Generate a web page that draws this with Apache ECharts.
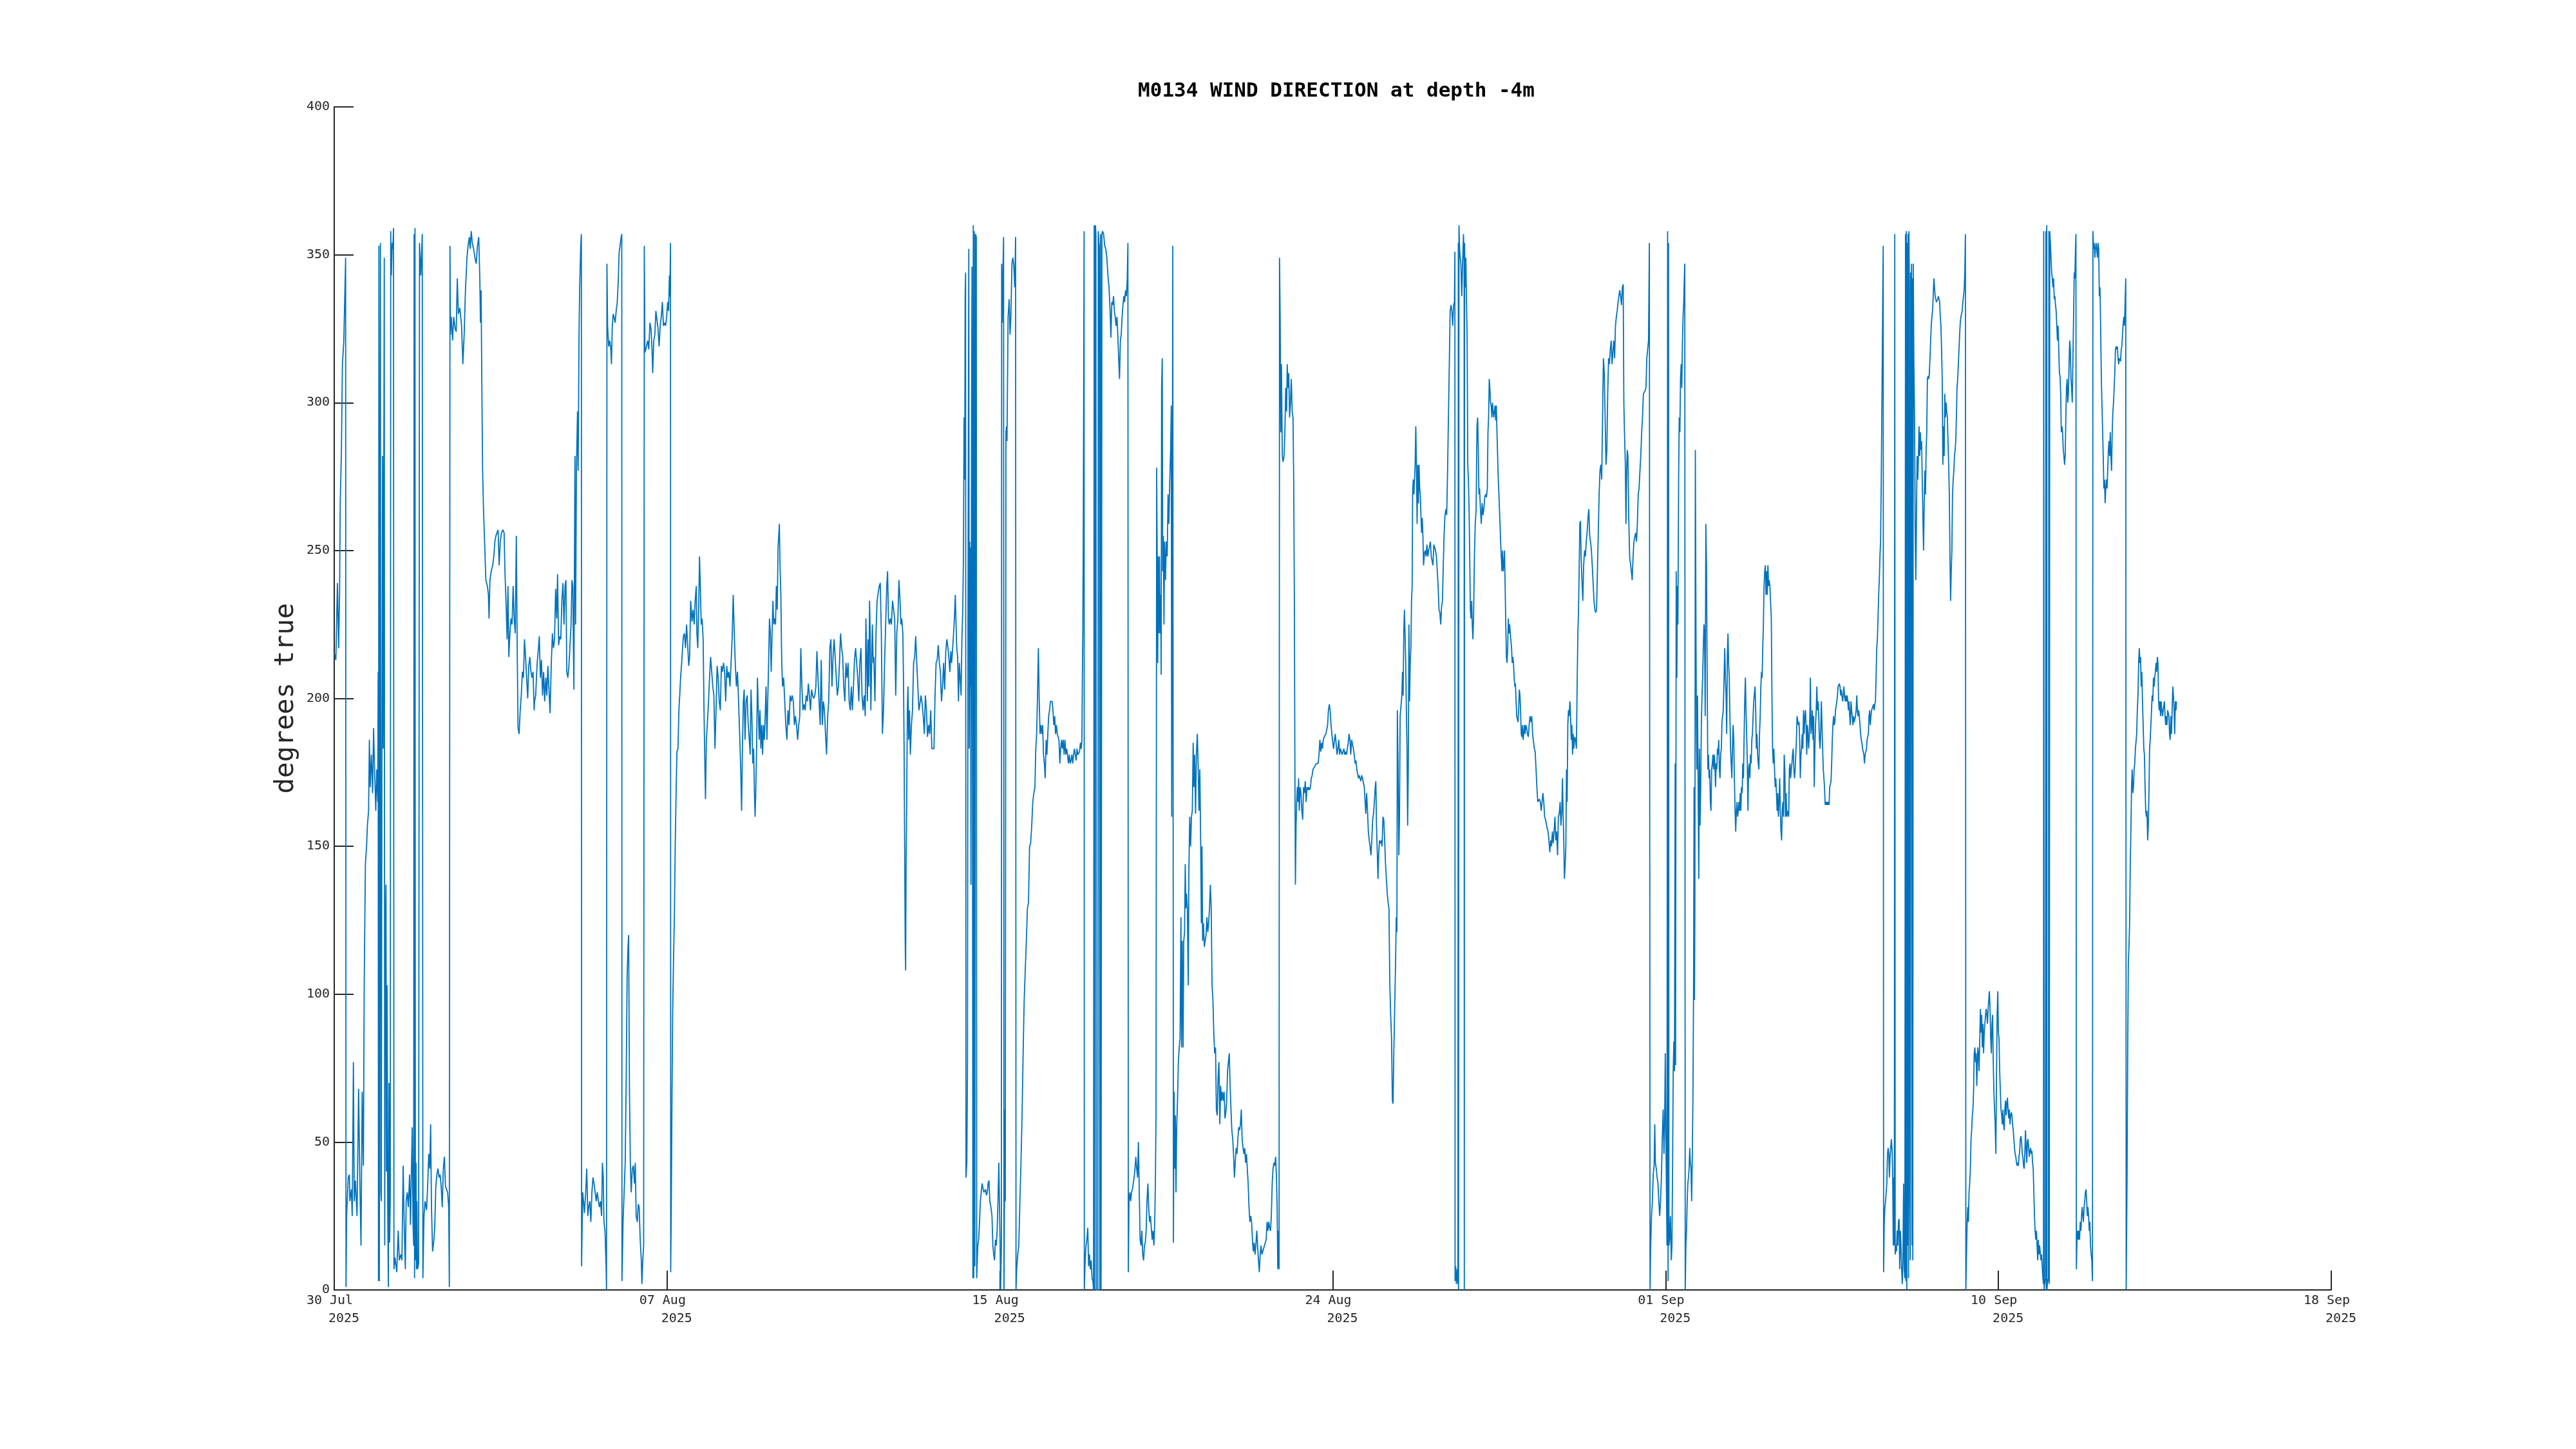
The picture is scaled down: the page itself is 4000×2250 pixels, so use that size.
<!DOCTYPE html>
<html>
<head>
<meta charset="utf-8">
<title>M0134 wind direction</title>
<script src="https://cdn.jsdelivr.net/npm/echarts@6/dist/echarts.min.js"></script>
<style>
  html, body { margin: 0; padding: 0; background: #fff; }
  #chart { width: 4000px; height: 2250px; }
</style>
</head>
<body>
<div id="chart"></div>
<script>
// x = days since 30 Jul 2025 00:00, y = wind direction (degrees true)
const tickDates = ['30 Jul', '07 Aug', '15 Aug', '24 Aug', '01 Sep', '10 Sep', '18 Sep']
const tickYears = ['2025', '2025', '2025', '2025', '2025', '2025', '2025']
const yTicks = [0, 50, 100, 150, 200, 250, 300, 350, 400]

// 30 Jul - 04 Aug
const seg1Day = [0.01,0.04,0.08,0.11,0.135,0.15,0.18,0.205,0.24,0.285,
  0.295,0.31,0.35,0.38,0.39,0.43,0.45,0.48,0.5,0.53,
  0.57,0.61,0.64,0.67,0.7,0.73,0.75,0.78,0.81,0.83,
  0.86,0.88,0.9,0.93,0.96,0.985,1.01,1.04,1.065,1.09,
  1.1,1.108,1.118,1.129,1.145,1.156,1.167,1.178,1.194,1.21,
  1.226,1.242,1.253,1.264,1.28,1.296,1.307,1.323,1.339,1.355,
  1.371,1.387,1.403,1.414,1.43,1.452,1.468,1.484,1.495,1.522,
  1.565,1.602,1.629,1.667,1.694,1.726,1.747,1.78,1.801,1.828,
  1.855,1.887,1.909,1.93,1.952,1.973,1.989,2.0,2.011,2.022,
  2.032,2.048,2.059,2.07,2.086,2.113,2.135,2.167,2.204,2.22,
  2.247,2.274,2.312,2.339,2.366,2.392,2.414,2.435,2.462,2.489,
  2.516,2.543,2.57,2.597,2.624,2.651,2.677,2.704,2.731,2.758,
  2.785,2.812,2.839,2.866,2.882,2.898,2.909,2.93,2.963,2.99,
  3.027,3.054,3.081,3.108,3.145,3.188,3.22,3.253,3.285,3.323,
  3.35,3.382,3.403,3.43,3.457,3.489,3.522,3.554,3.586,3.618,
  3.645,3.661,3.677,3.699,3.715,3.737,3.764,3.796,3.834,3.86,
  3.876,3.898,3.93,3.968,3.995,4.022,4.048,4.075,4.102,4.129,
  4.156,4.188,4.22,4.253,4.274,4.307,4.328,4.35,4.371,4.398,
  4.425,4.452,4.479,4.505,4.532,4.559,4.581,4.602,4.629,4.656,
  4.683,4.71,4.737,4.763,4.79,4.817,4.844,4.871,4.898,4.925,
  4.952,4.978,5.005]
const seg1Deg = [215,213,239,217,237,266,284,313,321,349,
  1,25,38,39,30,34,25,77,30,37,
  25,68,38,15,67,42,103,144,150,157,
  162,186,170,181,168,190,176,162,176,165,
  209,3,353,3,261,354,33,30,183,282,
  183,282,349,15,124,137,40,103,28,1,
  70,16,30,358,343,354,352,359,7,11,
  6,20,10,12,10,42,25,7,30,33,
  28,39,22,38,55,22,15,357,4,359,
  10,43,7,30,7,9,354,343,357,4,
  25,30,27,35,46,41,56,28,13,16,
  21,35,39,41,38,39,35,28,41,45,
  35,34,33,28,1,353,323,329,321,329,
  325,324,342,330,332,326,313,323,338,349,
  353,356,352,358,354,352,349,347,353,356,
  342,327,338,300,277,264,253,240,238,235,
  227,240,243,245,248,253,255,256,257,245,
  253,256,257,256,243,230,220,238,214,222,
  227,225,238,227,222,255,217,190,188,196,
  201,209,207,220,214,207,200,211,214,209,
  207,209,196]

// 04 Aug - 09 Aug
const seg2Day = [5.016,5.043,5.081,5.113,5.134,5.161,5.188,5.215,5.242,5.269,
  5.296,5.322,5.349,5.376,5.403,5.435,5.462,5.489,5.516,5.543,
  5.57,5.591,5.618,5.645,5.672,5.699,5.726,5.753,5.779,5.801,
  5.822,5.849,5.876,5.903,5.93,5.951,5.973,6.0,6.027,6.043,
  6.064,6.091,6.107,6.129,6.145,6.172,6.188,6.193,6.22,6.242,
  6.263,6.296,6.322,6.349,6.371,6.398,6.425,6.451,6.478,6.505,
  6.532,6.559,6.586,6.613,6.64,6.666,6.693,6.715,6.736,6.752,
  6.779,6.806,6.817,6.828,6.844,6.871,6.898,6.925,6.941,6.962,
  6.984,7.005,7.032,7.059,7.086,7.113,7.134,7.156,7.183,7.199,
  7.204,7.231,7.258,7.285,7.312,7.333,7.355,7.371,7.392,7.414,
  7.435,7.462,7.489,7.516,7.537,7.559,7.586,7.613,7.634,7.661,
  7.688,7.704,7.725,7.747,7.763,7.779,7.801,7.822,7.849,7.876,
  7.903,7.93,7.957,7.973,8.0,8.027,8.053,8.08,8.107,8.134,
  8.161,8.188,8.215,8.242,8.269,8.295,8.322,8.349,8.371,8.392,
  8.403,8.419,8.424,8.44,8.457,8.473,8.494,8.516,8.537,8.559,
  8.58,8.607,8.629,8.65,8.672,8.699,8.72,8.742,8.768,8.795,
  8.822,8.849,8.876,8.898,8.925,8.957,8.984,9.011,9.037,9.064,
  9.08,9.102,9.129,9.145,9.166,9.188,9.209,9.236,9.258,9.279,
  9.295,9.317,9.344,9.371,9.397,9.424,9.451,9.478,9.505,9.532,
  9.559,9.586,9.613,9.639,9.666,9.693,9.72,9.747,9.774,9.801,
  9.828,9.854,9.881,9.908,9.935,9.962,9.989,10.016,10.043,10.07,
  10.096,10.123,10.15]
const seg2Deg = [199,201,212,217,221,207,213,201,209,199,
  207,201,211,203,195,212,222,217,220,237,
  227,242,218,221,220,233,239,225,238,240,
  209,207,211,218,225,240,238,203,282,225,
  277,297,277,323,339,353,357,8,33,30,
  26,33,41,25,28,30,23,33,38,36,
  36,30,33,30,28,30,25,43,38,23,
  20,8,0,347,326,319,321,318,313,326,
  330,329,327,331,334,342,351,353,356,357,
  3,23,33,43,74,106,116,120,67,43,
  33,41,42,36,43,25,23,29,28,17,
  10,2,10,15,353,317,318,318,321,318,
  327,325,318,310,321,323,331,331,325,319,
  326,329,334,326,327,326,329,334,331,343,
  336,354,6,30,67,93,111,126,150,168,
  182,183,196,201,207,212,217,221,222,217,
  225,218,211,214,233,226,230,225,233,238,
  222,217,233,248,238,225,227,220,196,178,
  166,186,192,199,207,214,209,204,201,183,
  196,211,207,199,196,211,209,212,209,199,
  211,207,209,204,212,220,235,222,211,204,
  209,199,188]

// 09 Aug - 14 Aug
const seg3Day = [10.177,10.199,10.22,10.242,10.263,10.285,10.311,10.338,10.365,10.392,
  10.414,10.435,10.457,10.478,10.5,10.521,10.537,10.553,10.575,10.596,
  10.618,10.639,10.661,10.682,10.704,10.725,10.747,10.768,10.79,10.811,
  10.833,10.854,10.876,10.897,10.919,10.94,10.962,10.983,11.005,11.026,
  11.048,11.069,11.091,11.112,11.129,11.145,11.161,11.182,11.204,11.225,
  11.252,11.279,11.306,11.333,11.36,11.387,11.414,11.44,11.467,11.494,
  11.521,11.548,11.575,11.602,11.629,11.655,11.682,11.709,11.736,11.763,
  11.79,11.817,11.844,11.87,11.897,11.924,11.951,11.978,12.005,12.032,
  12.059,12.085,12.112,12.139,12.166,12.193,12.22,12.247,12.274,12.3,
  12.327,12.354,12.381,12.408,12.435,12.462,12.489,12.515,12.542,12.569,
  12.596,12.623,12.65,12.677,12.704,12.731,12.757,12.784,12.811,12.838,
  12.865,12.892,12.919,12.946,12.972,12.999,13.026,13.053,13.08,13.107,
  13.134,13.161,13.188,13.214,13.241,13.268,13.295,13.311,13.327,13.349,
  13.365,13.386,13.403,13.419,13.435,13.456,13.473,13.494,13.51,13.537,
  13.564,13.591,13.618,13.645,13.671,13.698,13.725,13.752,13.779,13.806,
  13.833,13.854,13.876,13.897,13.924,13.951,13.978,14.005,14.032,14.058,
  14.085,14.112,14.139,14.166,14.188,14.209,14.236,14.252,14.268,14.284,
  14.295,14.306,14.317,14.333,14.349,14.365,14.381,14.403,14.424,14.451,
  14.478,14.505,14.532,14.558,14.585,14.612,14.639,14.666,14.693,14.72,
  14.747,14.774,14.8,14.827,14.854,14.881,14.908,14.935,14.962,14.989,
  15.015,15.042,15.069,15.096,15.123,15.15,15.177,15.204,15.23,15.257,
  15.284,15.311]
const seg3Deg = [176,162,183,199,203,186,199,201,191,186,
  181,203,194,178,183,168,160,168,183,207,
  196,186,196,183,191,181,191,186,194,204,
  186,199,212,227,222,209,222,233,225,227,
  225,238,230,251,255,259,245,235,212,204,
  207,199,191,186,196,191,201,199,201,199,
  191,194,191,186,191,194,217,204,196,198,
  196,201,199,205,201,196,203,201,200,201,
  204,216,207,199,191,213,191,199,196,188,
  181,194,199,217,220,204,214,220,214,207,
  201,204,212,222,217,214,204,199,212,207,
  212,199,196,204,196,204,213,217,212,207,
  199,212,217,201,196,201,194,227,217,199,
  220,204,233,222,196,212,225,212,214,199,
  222,233,233,238,239,222,188,196,212,225,
  238,243,227,225,227,225,233,230,227,201,
  222,227,240,233,225,227,222,207,183,144,
  118,108,144,165,196,204,186,196,181,191,
  196,212,214,221,212,212,196,196,201,198,
  194,188,201,196,187,191,188,196,183,183,
  183,201,212,213,218,212,209,199,204,212,
  203,216]

// 14 Aug - 19 Aug
const seg4Day = [15.339,15.366,15.393,15.414,15.436,15.457,15.484,15.506,15.527,15.549,
  15.565,15.586,15.608,15.629,15.651,15.672,15.694,15.715,15.737,15.753,
  15.769,15.785,15.796,15.807,15.817,15.839,15.855,15.866,15.887,15.898,
  15.909,15.92,15.93,15.941,15.957,15.968,15.979,15.99,16.0,16.011,
  16.022,16.038,16.054,16.075,16.086,16.092,16.113,16.135,16.156,16.178,
  16.199,16.221,16.242,16.264,16.285,16.307,16.328,16.35,16.371,16.393,
  16.414,16.441,16.468,16.49,16.511,16.532,16.554,16.575,16.597,16.618,
  16.64,16.656,16.672,16.683,16.704,16.71,16.726,16.742,16.758,16.769,
  16.78,16.79,16.801,16.817,16.833,16.844,16.871,16.898,16.92,16.941,
  16.968,16.99,17.016,17.038,17.059,17.07,17.086,17.113,17.14,17.167,
  17.194,17.221,17.248,17.274,17.301,17.328,17.355,17.382,17.409,17.436,
  17.463,17.489,17.516,17.543,17.565,17.586,17.608,17.629,17.651,17.672,
  17.694,17.715,17.737,17.758,17.78,17.801,17.823,17.844,17.866,17.887,
  17.909,17.93,17.952,17.973,17.995,18.016,18.038,18.059,18.081,18.102,
  18.124,18.145,18.167,18.188,18.21,18.231,18.253,18.274,18.296,18.317,
  18.339,18.36,18.382,18.403,18.425,18.446,18.468,18.489,18.511,18.532,
  18.554,18.575,18.597,18.618,18.64,18.661,18.683,18.704,18.72,18.731,
  18.742,18.753,18.763,18.774,18.78,18.801,18.823,18.844,18.866,18.887,
  18.909,18.93,18.952,18.973,18.995,19.011,19.027,19.038,19.048,19.059,
  19.07,19.081,19.102,19.118,19.129,19.145,19.156,19.167,19.177,19.188,
  19.199,19.21,19.221,19.237,19.263,19.29,19.317,19.344,19.371,19.398,
  19.425,19.446,19.468,19.489,19.511,19.532,19.554,19.575,19.597,19.618,
  19.64,19.661,19.683,19.704,19.726,19.747,19.769,19.79,19.812,19.833,
  19.855,19.871,19.882,19.898,19.919,19.941,19.962,19.984,20.005,20.027,
  20.048,20.07,20.091,20.113,20.134,20.156,20.177,20.199,20.22,20.242,
  20.263,20.285,20.306,20.328,20.349,20.371,20.392,20.414,20.435,20.457,
  20.478]
const seg4Deg = [220,217,213,209,216,212,217,222,227,235,
  227,217,214,199,212,207,201,220,230,248,
  295,274,336,344,38,43,77,220,352,183,
  253,204,251,137,300,346,188,4,360,4,
  358,8,357,356,4,7,15,17,23,30,
  33,36,36,33,33,34,32,33,36,37,
  30,28,25,15,12,10,17,15,20,30,
  43,28,15,0,15,347,327,344,356,0,
  30,61,30,290,292,287,329,335,323,329,
  347,349,346,339,356,0,7,12,15,30,
  43,59,80,98,108,118,129,131,150,151,
  157,165,168,170,183,188,201,217,199,188,
  191,188,191,181,178,173,186,181,188,194,
  196,199,199,199,196,191,194,188,191,188,
  188,186,178,183,186,183,186,181,186,181,
  183,181,178,181,178,179,181,178,181,183,
  181,179,183,181,181,182,185,183,186,207,
  222,253,300,358,0,10,15,17,21,8,
  12,7,10,4,3,0,360,0,358,360,
  357,0,0,0,358,354,353,0,0,357,
  0,0,357,358,357,353,352,349,343,339,
  331,322,334,333,336,331,329,326,329,323,
  315,308,321,323,329,333,336,334,338,336,
  342,354,6,30,33,30,33,34,36,38,
  41,45,41,38,50,33,17,15,20,12,
  10,15,16,20,30,36,28,23,25,21,
  17]

// 19 Aug - 25 Aug
const seg5Day = [20.5,20.522,20.543,20.559,20.575,20.591,20.608,20.618,20.629,20.645,
  20.661,20.677,20.694,20.704,20.715,20.731,20.742,20.758,20.774,20.79,
  20.812,20.833,20.855,20.876,20.898,20.919,20.941,20.957,20.968,20.984,
  20.995,21.005,21.011,21.027,21.043,21.059,21.075,21.091,21.113,21.134,
  21.156,21.177,21.199,21.215,21.231,21.253,21.269,21.29,21.306,21.323,
  21.339,21.36,21.382,21.398,21.419,21.441,21.462,21.484,21.505,21.522,
  21.543,21.565,21.586,21.608,21.629,21.651,21.672,21.694,21.71,21.726,
  21.742,21.763,21.785,21.806,21.828,21.849,21.871,21.892,21.914,21.935,
  21.957,21.978,22.0,22.021,22.043,22.065,22.086,22.108,22.129,22.151,
  22.172,22.194,22.215,22.237,22.258,22.28,22.301,22.323,22.344,22.366,
  22.387,22.409,22.43,22.452,22.473,22.495,22.516,22.538,22.559,22.581,
  22.602,22.624,22.645,22.667,22.688,22.71,22.731,22.753,22.774,22.796,
  22.817,22.839,22.86,22.882,22.903,22.925,22.946,22.968,22.989,23.011,
  23.032,23.054,23.075,23.097,23.118,23.14,23.161,23.183,23.204,23.226,
  23.247,23.269,23.29,23.312,23.333,23.355,23.376,23.398,23.419,23.441,
  23.462,23.484,23.505,23.527,23.548,23.57,23.591,23.607,23.624,23.64,
  23.656,23.667,23.683,23.699,23.715,23.737,23.758,23.78,23.801,23.823,
  23.844,23.86,23.876,23.898,23.919,23.941,23.962,23.984,24.005,24.022,
  24.038,24.054,24.065,24.081,24.097,24.113,24.129,24.145,24.161,24.183,
  24.204,24.226,24.247,24.269,24.29,24.312,24.333,24.355,24.376,24.398,
  24.419,24.441,24.462,24.484,24.505,24.527,24.548,24.57,24.591,24.613,
  24.634,24.656,24.677,24.699,24.72,24.742,24.763,24.785,24.806,24.828,
  24.849,24.871,24.892,24.914,24.935,24.957,24.978,25.0,25.021,25.043,
  25.064,25.086,25.107,25.129,25.15,25.172,25.193,25.215,25.236,25.258,
  25.279,25.301,25.322,25.344,25.365,25.387,25.408,25.43,25.451,25.473,
  25.494,25.516,25.537,25.559,25.58,25.602,25.623,25.645]
const seg5Deg = [20,15,23,36,59,278,240,212,248,222,
  248,222,235,208,305,315,243,255,225,253,
  240,253,248,269,259,274,284,299,160,259,
  353,137,16,67,41,59,33,54,64,77,
  82,85,126,82,118,82,118,121,144,129,
  134,129,103,142,160,150,160,162,185,170,
  181,161,181,188,178,162,176,150,124,150,
  118,124,116,118,120,126,121,124,129,137,
  129,103,98,87,80,82,61,59,72,77,
  56,69,64,67,64,67,58,60,64,74,
  77,80,69,61,54,51,46,38,43,48,
  46,51,55,54,56,61,51,48,46,48,
  43,46,41,36,28,23,25,23,17,13,
  16,12,15,20,15,10,6,12,15,12,
  13,13,15,15,17,23,20,23,21,20,
  25,36,41,43,42,45,38,28,7,20,
  7,349,329,290,313,282,280,282,290,305,
  297,313,305,310,295,300,308,297,295,274,
  235,170,137,157,165,170,165,173,162,170,
  168,162,159,170,168,172,165,170,169,170,
  169,170,173,174,176,176,177,177,178,178,
  178,181,186,182,185,183,186,187,187,188,
  188,191,196,198,196,191,188,185,183,186,
  188,188,181,183,186,181,183,182,181,182,
  183,181,182,181,183,185,188,186,181,186,
  186,183,181,178,179,176,176,173]

// 25 Aug - 30 Aug
const seg6Day = [25.66,25.682,25.703,25.725,25.746,25.768,25.789,25.811,25.827,25.848,
  25.87,25.891,25.913,25.934,25.956,25.977,25.999,26.02,26.042,26.063,
  26.079,26.095,26.117,26.133,26.149,26.171,26.192,26.214,26.235,26.257,
  26.278,26.3,26.321,26.343,26.364,26.386,26.407,26.429,26.45,26.472,
  26.493,26.509,26.526,26.547,26.569,26.59,26.606,26.617,26.633,26.655,
  26.671,26.687,26.708,26.73,26.746,26.762,26.778,26.794,26.81,26.827,
  26.843,26.859,26.875,26.891,26.907,26.923,26.939,26.956,26.972,26.988,
  26.999,27.015,27.031,27.047,27.063,27.079,27.095,27.112,27.128,27.144,
  27.16,27.176,27.192,27.208,27.224,27.241,27.257,27.273,27.294,27.316,
  27.337,27.359,27.38,27.402,27.423,27.445,27.466,27.488,27.509,27.531,
  27.552,27.574,27.595,27.617,27.638,27.66,27.681,27.703,27.724,27.746,
  27.767,27.789,27.81,27.832,27.853,27.875,27.896,27.918,27.939,27.961,
  27.982,28.004,28.025,28.047,28.058,28.063,28.079,28.095,28.117,28.133,
  28.144,28.149,28.16,28.176,28.192,28.208,28.23,28.251,28.273,28.289,
  28.294,28.3,28.316,28.332,28.348,28.364,28.38,28.396,28.413,28.429,
  28.445,28.461,28.477,28.493,28.509,28.525,28.547,28.568,28.59,28.611,
  28.628,28.644,28.66,28.676,28.697,28.719,28.74,28.762,28.783,28.805,
  28.827,28.848,28.87,28.886,28.902,28.918,28.934,28.95,28.966,28.983,
  28.999,29.015,29.031,29.047,29.063,29.079,29.095,29.112,29.128,29.144,
  29.16,29.182,29.203,29.219,29.235,29.251,29.267,29.284,29.3,29.316,
  29.332,29.348,29.364,29.38,29.396,29.412,29.429,29.445,29.461,29.477,
  29.493,29.509,29.525,29.542,29.558,29.574,29.59,29.606,29.622,29.638,
  29.654,29.671,29.687,29.703,29.719,29.735,29.751,29.767,29.783,29.8,
  29.816,29.832,29.853,29.875,29.896,29.918,29.939,29.961,29.982,30.004,
  30.025,30.047,30.068,30.09,30.111,30.133,30.154,30.176,30.197,30.219,
  30.24,30.262,30.283,30.305,30.327,30.348,30.37,30.391,30.413,30.434,
  30.456,30.477,30.499,30.52,30.542,30.563,30.585,30.606,30.628,30.649,
  30.671,30.692,30.714,30.735,30.751,30.767,30.783,30.8]
const seg6Deg = [174,173,172,174,173,173,170,165,161,168,
  162,155,152,150,147,152,159,161,165,170,
  172,157,147,139,147,152,151,152,150,160,
  159,152,144,139,134,131,129,103,93,85,
  64,63,78,93,108,126,121,196,181,147,
  160,194,194,201,209,201,222,230,222,212,
  196,183,157,176,225,199,212,217,233,238,
  269,274,269,274,279,292,279,259,279,266,
  279,271,269,262,256,261,255,245,249,250,
  248,252,248,250,250,253,248,248,245,252,
  252,250,248,243,238,230,229,225,231,233,
  245,256,262,264,262,277,295,313,331,333,
  331,326,333,334,351,3,8,2,7,2,
  354,0,360,352,349,347,336,347,357,347,
  0,354,339,349,334,323,279,274,264,248,
  230,227,233,225,220,227,248,259,264,292,
  295,284,269,271,264,259,266,262,264,268,
  269,268,271,290,295,308,305,300,299,295,
  300,297,295,297,299,294,299,290,282,274,
  269,261,253,248,243,250,243,245,250,238,
  225,214,212,217,227,222,225,222,222,217,
  212,214,212,207,204,205,199,194,194,192,
  196,203,201,196,188,187,191,186,186,191,
  188,191,190,188,187,191,194,192,194,188,
  188,183,182,176,170,165,165,166,165,162,
  165,168,165,160,159,159,156,155,152,148,
  152,150,155,151,155,160,152,155,147,160,
  161,165,157,162,173,162,152,139]

// 30 Aug - 04 Sep
const seg7Day = [30.82,30.836,30.852,30.868,30.885,30.901,30.917,30.938,30.954,30.971,
  30.987,31.003,31.019,31.035,31.057,31.078,31.1,31.121,31.137,31.153,
  31.169,31.186,31.202,31.218,31.239,31.261,31.282,31.304,31.325,31.347,
  31.368,31.39,31.411,31.433,31.454,31.476,31.497,31.519,31.54,31.562,
  31.583,31.605,31.626,31.648,31.669,31.691,31.712,31.734,31.755,31.777,
  31.798,31.82,31.841,31.863,31.884,31.906,31.927,31.949,31.971,31.992,
  32.014,32.035,32.057,32.078,32.1,32.121,32.143,32.164,32.186,32.207,
  32.229,32.25,32.272,32.288,32.304,32.325,32.341,32.358,32.374,32.39,
  32.411,32.433,32.454,32.476,32.497,32.519,32.54,32.562,32.583,32.605,
  32.626,32.648,32.669,32.691,32.712,32.734,32.755,32.777,32.798,32.82,
  32.841,32.863,32.884,32.906,32.927,32.944,32.96,32.981,33.003,33.024,
  33.046,33.062,33.078,33.1,33.121,33.142,33.164,33.185,33.207,33.228,
  33.25,33.272,33.293,33.309,33.325,33.341,33.358,33.368,33.384,33.395,
  33.406,33.417,33.433,33.454,33.476,33.492,33.508,33.524,33.54,33.556,
  33.573,33.583,33.599,33.616,33.626,33.642,33.659,33.675,33.691,33.707,
  33.723,33.739,33.755,33.771,33.788,33.804,33.814,33.825,33.841,33.857,
  33.874,33.89,33.906,33.922,33.938,33.954,33.97,33.986,34.003,34.019,
  34.035,34.046,34.056,34.067,34.078,34.094,34.105,34.115,34.132,34.148,
  34.164,34.18,34.196,34.212,34.228,34.245,34.261,34.277,34.293,34.309,
  34.325,34.341,34.357,34.374,34.39,34.406,34.422,34.438,34.454,34.47,
  34.487,34.503,34.519,34.535,34.551,34.567,34.583,34.6,34.616,34.632,
  34.648,34.664,34.68,34.696,34.712,34.729,34.745,34.761,34.777,34.798,
  34.814,34.831,34.847,34.863,34.879,34.895,34.911,34.927,34.944,34.96,
  34.976,34.992,35.008,35.024,35.04,35.056,35.073,35.089,35.105,35.121,
  35.137,35.153,35.169,35.185,35.202,35.218,35.234,35.25,35.266,35.282,
  35.298,35.314,35.331,35.347,35.363,35.379,35.395,35.411,35.427,35.443,
  35.46,35.476,35.492,35.508,35.524,35.54,35.556,35.572,35.589,35.605,
  35.621,35.637,35.653,35.669,35.685,35.702,35.718,35.734,35.75,35.766,
  35.782,35.798,35.815,35.831,35.847,35.863,35.879,35.895,35.911,35.927,
  35.944,35.96]
const seg7Deg = [144,150,176,165,191,196,194,199,194,186,
  191,181,188,183,187,186,183,207,222,230,
  243,259,260,248,240,233,245,250,248,253,
  256,261,264,255,253,250,245,239,233,230,
  229,230,243,256,269,277,279,274,295,315,
  310,295,279,284,303,315,313,318,321,313,
  313,321,315,326,329,331,334,336,338,336,
  333,339,340,300,290,279,259,277,284,282,
  261,248,248,243,240,248,253,253,256,253,
  259,269,271,277,282,290,295,303,303,304,
  305,315,318,321,354,0,15,25,30,39,
  42,56,43,41,38,36,30,25,30,38,
  51,61,46,56,80,51,30,15,358,3,
  354,15,17,25,10,15,41,74,84,74,
  178,76,243,207,238,225,274,295,290,308,
  313,305,321,329,334,343,347,0,15,20,
  30,36,38,41,48,43,41,30,46,67,
  106,170,98,131,284,222,191,176,201,170,
  139,183,157,170,191,201,207,217,225,222,
  194,259,245,209,176,181,173,176,165,162,
  176,178,181,176,181,178,170,178,176,183,
  181,186,176,173,181,183,192,194,196,207,
  217,207,201,188,214,222,212,207,194,183,
  178,173,183,191,186,173,162,155,162,165,
  160,162,165,162,168,162,170,168,178,173,
  186,199,207,196,188,178,162,176,178,173,
  181,178,186,188,194,199,199,204,196,183,
  188,181,178,176,188,194,204,209,207,217,
  225,238,243,245,235,243,235,245,238,240,
  238,233]

// 04 Sep - 09 Sep
const seg8Day = [35.98,35.996,36.012,36.028,36.045,36.061,36.077,36.093,36.109,36.125,
  36.141,36.157,36.174,36.19,36.206,36.222,36.238,36.254,36.27,36.286,
  36.303,36.319,36.335,36.351,36.367,36.383,36.399,36.415,36.432,36.448,
  36.464,36.48,36.496,36.512,36.528,36.545,36.561,36.577,36.593,36.609,
  36.625,36.641,36.657,36.674,36.69,36.706,36.722,36.738,36.754,36.77,
  36.786,36.803,36.819,36.835,36.851,36.867,36.883,36.899,36.915,36.932,
  36.948,36.958,36.975,36.991,37.007,37.023,37.039,37.055,37.071,37.087,
  37.104,37.12,37.136,37.152,37.168,37.184,37.2,37.216,37.233,37.249,
  37.265,37.281,37.297,37.313,37.329,37.346,37.362,37.378,37.394,37.41,
  37.426,37.442,37.458,37.475,37.491,37.507,37.523,37.539,37.555,37.571,
  37.587,37.604,37.62,37.636,37.652,37.668,37.684,37.7,37.716,37.733,
  37.749,37.765,37.781,37.797,37.813,37.829,37.846,37.862,37.878,37.894,
  37.91,37.926,37.942,37.958,37.975,37.991,38.007,38.023,38.039,38.055,
  38.071,38.088,38.104,38.12,38.136,38.152,38.168,38.184,38.2,38.216,
  38.233,38.249,38.265,38.281,38.297,38.313,38.329,38.346,38.362,38.378,
  38.394,38.41,38.426,38.442,38.458,38.474,38.491,38.507,38.523,38.539,
  38.555,38.571,38.587,38.603,38.62,38.636,38.652,38.668,38.684,38.7,
  38.716,38.733,38.749,38.765,38.781,38.792,38.808,38.824,38.84,38.856,
  38.872,38.889,38.905,38.921,38.937,38.953,38.969,38.985,39.001,39.017,
  39.034,39.05,39.06,39.071,39.082,39.098,39.114,39.13,39.146,39.163,
  39.179,39.195,39.211,39.227,39.243,39.259,39.275,39.292,39.308,39.324,
  39.34,39.351,39.361,39.372,39.383,39.394,39.404,39.415,39.426,39.437,
  39.447,39.458,39.469,39.48,39.491,39.501,39.512,39.523,39.534,39.55,
  39.566,39.582,39.598,39.614,39.63,39.647,39.663,39.679,39.695,39.711,
  39.727,39.743,39.759,39.776,39.792,39.808,39.824,39.84,39.856,39.872,
  39.888,39.905,39.921,39.937,39.953,39.969,39.985,40.001,40.017,40.034,
  40.05,40.066,40.082,40.098,40.114,40.13,40.146,40.163,40.179,40.195,
  40.211,40.227,40.243,40.259,40.275,40.292,40.308,40.324,40.34,40.356,
  40.372,40.388,40.404,40.421,40.437,40.453,40.469,40.485,40.501,40.517,
  40.534,40.55,40.566,40.582,40.598,40.614,40.63,40.646,40.663,40.679,
  40.695,40.711,40.727,40.743,40.759,40.775,40.792,40.808,40.824,40.84,
  40.851,40.867,40.883,40.899,40.915,40.931,40.947,40.964,40.98,40.996,
  41.012,41.028,41.044,41.06,41.077,41.093,41.109,41.125]
const seg8Deg = [227,201,183,178,183,176,170,173,168,162,
  168,160,165,173,162,155,152,162,165,160,
  181,176,160,168,160,161,162,160,176,178,
  173,176,178,181,183,176,173,176,181,186,
  194,194,191,192,186,173,181,183,188,183,
  196,188,194,196,191,181,191,188,183,188,
  196,207,188,191,196,186,194,170,183,191,
  196,204,196,199,194,186,183,188,199,191,
  183,176,173,170,164,165,164,165,164,165,
  164,170,170,172,178,186,191,194,191,192,
  196,196,199,201,204,204,205,204,201,203,
  201,199,201,204,201,199,201,199,201,199,
  196,199,194,191,199,196,196,191,194,192,
  192,194,196,201,196,194,196,194,191,188,
  186,185,183,182,181,178,181,182,183,186,
  186,188,194,196,191,194,196,196,196,198,
  196,198,199,207,217,220,227,235,240,248,
  253,274,300,326,353,6,23,28,30,33,
  36,46,48,46,38,45,48,51,48,41,
  15,38,15,357,12,15,13,20,15,23,
  24,7,20,15,7,2,10,36,7,4,
  357,3,358,0,354,15,357,4,358,339,
  30,10,344,336,347,15,342,10,347,313,
  295,259,240,261,282,274,282,292,282,290,
  284,287,274,261,250,266,277,269,284,290,
  308,309,308,310,315,321,326,329,331,336,
  342,339,336,336,334,334,335,336,335,334,
  329,326,318,308,279,292,282,303,295,300,
  297,295,287,279,269,248,233,243,250,269,
  274,277,282,284,287,295,305,308,313,318,
  323,327,329,330,331,334,336,338,344,357,
  0,12,23,28,23,33,36,41,51,54,
  59,61,67,80,82,77,80,69]

// 09 Sep - 14 Sep
const seg9Day = [41.15,41.166,41.182,41.198,41.215,41.231,41.247,41.263,41.279,41.295,
  41.311,41.327,41.344,41.36,41.376,41.392,41.408,41.424,41.44,41.456,
  41.473,41.489,41.505,41.521,41.537,41.553,41.569,41.585,41.602,41.618,
  41.634,41.65,41.666,41.682,41.698,41.715,41.731,41.747,41.763,41.779,
  41.795,41.811,41.827,41.844,41.86,41.876,41.892,41.908,41.924,41.94,
  41.956,41.973,41.989,42.005,42.021,42.037,42.053,42.069,42.085,42.102,
  42.118,42.134,42.15,42.166,42.182,42.198,42.214,42.231,42.247,42.263,
  42.279,42.295,42.311,42.327,42.344,42.36,42.376,42.392,42.408,42.424,
  42.44,42.456,42.473,42.489,42.505,42.521,42.537,42.553,42.569,42.585,
  42.602,42.618,42.634,42.65,42.666,42.682,42.698,42.714,42.731,42.747,
  42.763,42.779,42.795,42.8,42.811,42.822,42.833,42.844,42.854,42.865,
  42.876,42.881,42.892,42.908,42.919,42.93,42.94,42.951,42.967,42.983,
  42.999,43.015,43.032,43.048,43.064,43.08,43.096,43.112,43.128,43.144,
  43.161,43.177,43.193,43.209,43.225,43.241,43.257,43.273,43.29,43.306,
  43.322,43.338,43.354,43.37,43.386,43.403,43.419,43.435,43.451,43.467,
  43.483,43.499,43.515,43.532,43.548,43.564,43.58,43.596,43.607,43.618,
  43.634,43.65,43.666,43.682,43.698,43.714,43.731,43.747,43.763,43.779,
  43.795,43.811,43.827,43.843,43.86,43.876,43.892,43.908,43.924,43.94,
  43.956,43.972,43.989,44.005,44.021,44.032,44.048,44.064,44.08,44.096,
  44.112,44.128,44.144,44.161,44.177,44.193,44.209,44.225,44.241,44.257,
  44.273,44.29,44.306,44.322,44.338,44.354,44.37,44.386,44.402,44.419,
  44.435,44.451,44.467,44.483,44.499,44.515,44.532,44.548,44.564,44.58,
  44.596,44.612,44.628,44.644,44.661,44.677,44.693,44.709,44.725,44.741,
  44.757,44.774,44.79,44.806,44.822,44.838,44.854,44.865,44.886,44.903,
  44.919,44.935,44.951,44.967,44.983,44.999,45.015,45.032,45.048,45.064,
  45.08,45.096,45.112,45.128,45.144,45.161,45.177,45.193,45.209,45.225,
  45.241,45.257,45.273,45.29,45.306,45.322,45.338,45.354,45.37,45.386,
  45.403,45.419,45.435,45.451,45.467,45.483,45.499,45.515,45.532,45.548,
  45.564,45.58,45.596,45.612,45.628,45.645,45.661,45.677,45.693,45.709,
  45.725,45.741,45.757,45.774,45.79,45.806,45.822,45.838,45.854,45.87,
  45.886,45.903,45.919,45.935,45.951,45.967,45.983,45.999,46.015,46.032,
  46.048,46.064,46.08,46.096,46.112,46.123]
const seg9Deg = [82,80,74,84,95,87,93,82,90,80,
  87,90,93,95,93,90,95,98,101,95,
  85,80,90,93,77,67,61,56,46,72,
  93,101,87,85,74,67,61,59,56,61,
  56,54,61,64,59,63,65,61,58,61,
  56,59,60,59,56,54,51,48,46,45,
  43,42,43,42,45,47,51,52,50,46,
  45,42,41,46,54,48,43,50,51,48,
  45,47,48,46,47,43,41,33,25,20,
  17,20,15,10,17,12,15,15,10,12,
  8,4,2,358,0,2,3,4,358,0,
  360,0,2,2,4,358,2,358,354,349,
  344,342,339,342,335,336,333,331,326,321,
  326,318,310,309,303,290,292,290,284,282,
  279,282,295,305,308,300,303,313,321,318,
  308,305,300,315,329,344,342,352,357,7,
  17,20,17,20,17,23,20,25,28,25,
  23,28,30,33,34,30,25,28,25,20,
  23,15,12,10,3,358,352,354,349,352,
  354,352,349,354,352,336,339,326,310,300,
  292,282,271,274,266,271,274,271,277,284,
  287,282,290,282,277,290,297,300,300,310,
  318,319,318,319,315,313,315,315,314,318,
  319,323,327,329,326,334,342,0,36,80,
  111,116,124,144,155,170,176,168,170,176,
  178,183,183,188,196,201,212,217,212,214,
  204,209,199,191,183,181,170,162,160,162,
  152,157,168,183,186,191,196,201,199,207,
  204,207,209,212,209,214,212,199,196,199,
  194,199,196,194,196,196,199,194,191,194,
  191,196,196,194,188,186,194,188,196,204,
  201,196,188,199,196,199]

const allDays = [].concat(seg1Day, seg2Day, seg3Day, seg4Day, seg5Day, seg6Day, seg7Day, seg8Day, seg9Day)
const allDeg = [].concat(seg1Deg, seg2Deg, seg3Deg, seg4Deg, seg5Deg, seg6Deg, seg7Deg, seg8Deg, seg9Deg)
const seriesData = allDays.map((d, i) => [d, allDeg[i]])

const axisColor = '#262626'
const monoFont = 'DejaVu Sans Mono'
const tickStep = 50 / 6

const myChart = echarts.init(document.getElementById('chart'), null, { renderer: 'canvas' })

myChart.setOption({
  animation: false,
  backgroundColor: '#ffffff',
  title: {
    text: 'M0134 WIND DIRECTION at depth -4m',
    left: 2070,
    top: 121,
    textAlign: 'center',
    textStyle: {
      fontFamily: monoFont,
      fontSize: 31,
      fontWeight: 'bold',
      color: '#000000',
    },
  },
  grid: {
    left: 519,
    right: 380,
    top: 166,
    bottom: 247,
    containLabel: false,
  },
  xAxis: {
    type: 'value',
    min: 0,
    max: 50,
    interval: tickStep,
    axisLine: { show: true, lineStyle: { color: axisColor, width: 2 } },
    axisTick: { show: true, inside: true, length: 30, lineStyle: { color: axisColor, width: 2 } },
    splitLine: { show: false },
    axisLabel: {
      margin: 3,
      showMinLabel: true,
      showMaxLabel: true,
      formatter: (v) => {
        const i = Math.round(v / tickStep)
        return '{d|' + tickDates[i] + '}\n{y|' + tickYears[i] + '}'
      },
      rich: {
        d: { fontFamily: monoFont, fontSize: 20, color: axisColor, lineHeight: 28, padding: [0, 14, 0, 0] },
        y: { fontFamily: monoFont, fontSize: 20, color: axisColor, lineHeight: 28, padding: [0, 0, 0, 30] },
      },
    },
  },
  yAxis: {
    type: 'value',
    min: yTicks[0],
    max: yTicks[yTicks.length - 1],
    interval: 50,
    name: 'degrees true',
    nameLocation: 'middle',
    nameGap: 50,
    nameTextStyle: { fontFamily: monoFont, fontSize: 41, color: axisColor },
    axisLine: { show: true, lineStyle: { color: axisColor, width: 2 } },
    axisTick: { show: true, inside: true, length: 30, lineStyle: { color: axisColor, width: 2 } },
    splitLine: { show: false },
    axisLabel: {
      margin: 7,
      fontFamily: monoFont,
      fontSize: 20,
      color: axisColor,
    },
  },
  series: [
    {
      name: 'wind direction',
      type: 'line',
      data: seriesData,
      showSymbol: false,
      symbol: 'none',
      sampling: null,
      lineStyle: { color: '#0072BD', width: 1.8 },
      z: 2,
    },
  ],
})

window.addEventListener('resize', () => {
  myChart.resize()
})
</script>
</body>
</html>
